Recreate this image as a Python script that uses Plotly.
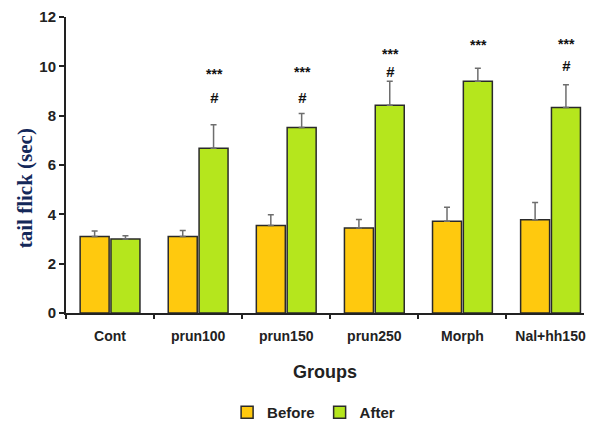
import plotly.graph_objects as go

groups = ["Cont", "prun100", "prun150", "prun250", "Morph", "Nal+hh150"]
before = [3.1, 3.1, 3.55, 3.45, 3.72, 3.78]
before_err = [0.22, 0.24, 0.43, 0.34, 0.57, 0.70]
after = [3.0, 6.68, 7.52, 8.42, 9.4, 8.33]
after_err = [0.13, 0.95, 0.57, 0.98, 0.52, 0.92]
sig_star = ["", "***", "***", "***", "***", "***"]
sig_hash = ["", "#", "#", "#", "", "#"]

fig = go.Figure()
fig.add_trace(go.Bar(
    x=groups, y=before, name="Before",
    marker=dict(color="#FFC90E", line=dict(color="#2a2a2a", width=1.5)),
    error_y=dict(type="data", symmetric=False, array=before_err,
                 arrayminus=[0] * len(before), color="#6e6e6e", thickness=1.5, width=3),
))
fig.add_trace(go.Bar(
    x=groups, y=after, name="After",
    marker=dict(color="#B5E61D", line=dict(color="#2a2a2a", width=1.5)),
    error_y=dict(type="data", symmetric=False, array=after_err,
                 arrayminus=[0] * len(after), color="#6e6e6e", thickness=1.5, width=3),
))

# significance marks placement above the After bars
star_pos = [0, 9.7, 9.77, 10.5, 10.85, 10.92]
hash_pos = [0, 8.75, 8.75, 9.78, 0, 10.05]
for i, g in enumerate(groups):
    if sig_star[i]:
        fig.add_annotation(x=g, y=star_pos[i], text="<b>" + sig_star[i] + "</b>",
                           xshift=16, showarrow=False,
                           font=dict(family="Liberation Sans", size=14, color="#111"))
    if sig_hash[i]:
        fig.add_annotation(x=g, y=hash_pos[i], text="<b><i>" + sig_hash[i] + "</i></b>",
                           xshift=16, showarrow=False,
                           font=dict(family="Liberation Sans", size=15, color="#111"))

fig.add_annotation(xref="paper", yref="paper", x=-0.08, y=0.42,
                   text="<b>tail flick (sec)</b>", textangle=-90, showarrow=False,
                   xanchor="center", yanchor="middle",
                   font=dict(family="Liberation Serif", size=21, color="#14285a"))
fig.add_annotation(xref="paper", yref="paper", x=0.5, y=-0.2,
                   text="<b>Groups</b>", showarrow=False,
                   xanchor="center", yanchor="middle",
                   font=dict(family="Liberation Sans", size=18, color="#222"))

fig.update_layout(
    width=608, height=421,
    margin=dict(l=58, r=32, t=9, b=116, autoexpand=False),
    paper_bgcolor="white", plot_bgcolor="white",
    barmode="group", bargap=0.3, bargroupgap=0.06,
    font=dict(family="Liberation Sans", color="#222"),
    showlegend=True,
    legend=dict(orientation="h", x=0.478, xanchor="center", yref="container", y=0.0,
                yanchor="bottom",
                font=dict(size=15, family="Liberation Sans", weight="bold"),
                itemwidth=30, tracegroupgap=0, itemclick=False),
)
fig.update_xaxes(
    type="category", range=[-0.5, 5.38], automargin=False,
    showline=True, linecolor="#222", linewidth=2,
    ticks="outside", tickson="boundaries", ticklen=4, tickcolor="#222", tickwidth=1.5,
    tickfont=dict(size=14, family="Liberation Sans", weight="bold", color="#222"),
    ticklabelstandoff=9,
    showgrid=False,
)
fig.update_yaxes(
    range=[0, 12], dtick=2, automargin=False,
    showline=True, linecolor="#222", linewidth=2,
    ticks="outside", ticklen=5, tickcolor="#222", tickwidth=1.5,
    tickfont=dict(size=15, family="Liberation Sans", weight="bold", color="#222"),
    showgrid=False, zeroline=False,
)
fig.write_html("out.html")
